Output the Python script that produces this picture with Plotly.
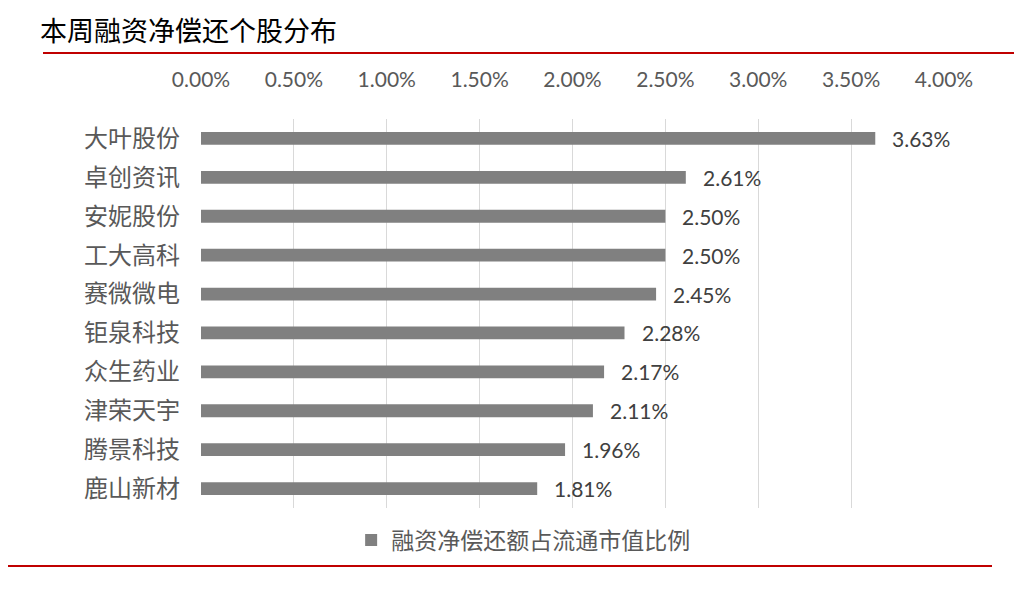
import plotly.graph_objects as go

categories = ["大叶股份", "卓创资讯", "安妮股份", "工大高科", "赛微微电", "钜泉科技", "众生药业", "津荣天宇", "腾景科技", "鹿山新材"]
values = [0.0363, 0.0261, 0.0250, 0.0250, 0.0245, 0.0228, 0.0217, 0.0211, 0.0196, 0.0181]
series_name = "融资净偿还额占流通市值比例"
title_text = "本周融资净偿还个股分布"
tick_vals = [0, 0.005, 0.01, 0.015, 0.02, 0.025, 0.03, 0.035, 0.04]

CJK = "Noto Sans CJK SC"
LAT = "Lato, 'Open Sans', sans-serif"

# page body has an 8px margin; figure is laid out in page pixels minus 8
OFF = 8
W, H = 1022 - OFF, 589 - OFF
L, R, T, B = 201 - OFF, 78, 119 - OFF, 81
PW, PH = W - L - R, H - T - B  # 743 x 389

fig = go.Figure()
fig.add_trace(go.Bar(
    y=categories, x=values, orientation="h", name=series_name,
    marker=dict(color="#808080", line=dict(width=0)),
    width=0.33, showlegend=True,
))

for c, v in zip(categories, values):
    fig.add_annotation(x=v, y=c, xref="x", yref="y", text=f"{v*100:.2f}%",
                       showarrow=False, xanchor="left", yanchor="middle", xshift=15,
                       font=dict(family=LAT, size=21, color="#404040"))

fig.update_layout(
    width=W, height=H,
    margin=dict(l=L, r=R, t=T, b=B),
    plot_bgcolor="white", paper_bgcolor="white",
    xaxis=dict(side="top", range=[0, 0.04], tickvals=tick_vals, tickformat=".2%",
               showgrid=True, gridcolor="#d9d9d9", gridwidth=1, zeroline=False,
               showline=False, ticks="", ticklabelstandoff=27,
               tickfont=dict(family=LAT, size=21, color="#595959")),
    yaxis=dict(autorange="reversed", showgrid=False, showline=False, ticks="",
               ticklabelstandoff=20,
               tickfont=dict(family=CJK, size=24, color="#595959")),
    legend=dict(orientation="h", x=(366 - 201) / PW - 0.02, xanchor="left",
                y=-(540 - 508) / PH, yanchor="middle",
                font=dict(family=CJK, size=23, color="#595959")),
    title=dict(text=title_text, x=(40 - OFF) / W, xanchor="left",
               y=1 - (32 - OFF) / H, yanchor="middle",
               font=dict(family=CJK, size=27, color="#000000")),
    shapes=[
        dict(type="line", xref="paper", yref="paper",
             x0=(43 - 201) / PW, x1=(1015 - 201) / PW,
             y0=1 + (119 - 53) / PH, y1=1 + (119 - 53) / PH,
             line=dict(color="#C00000", width=2)),
        dict(type="line", xref="paper", yref="paper",
             x0=(0 - 201) / PW, x1=(992 - 201) / PW,
             y0=-(566 - 508) / PH, y1=-(566 - 508) / PH,
             line=dict(color="#C00000", width=2)),
    ],
)

fig.write_html("out.html")
